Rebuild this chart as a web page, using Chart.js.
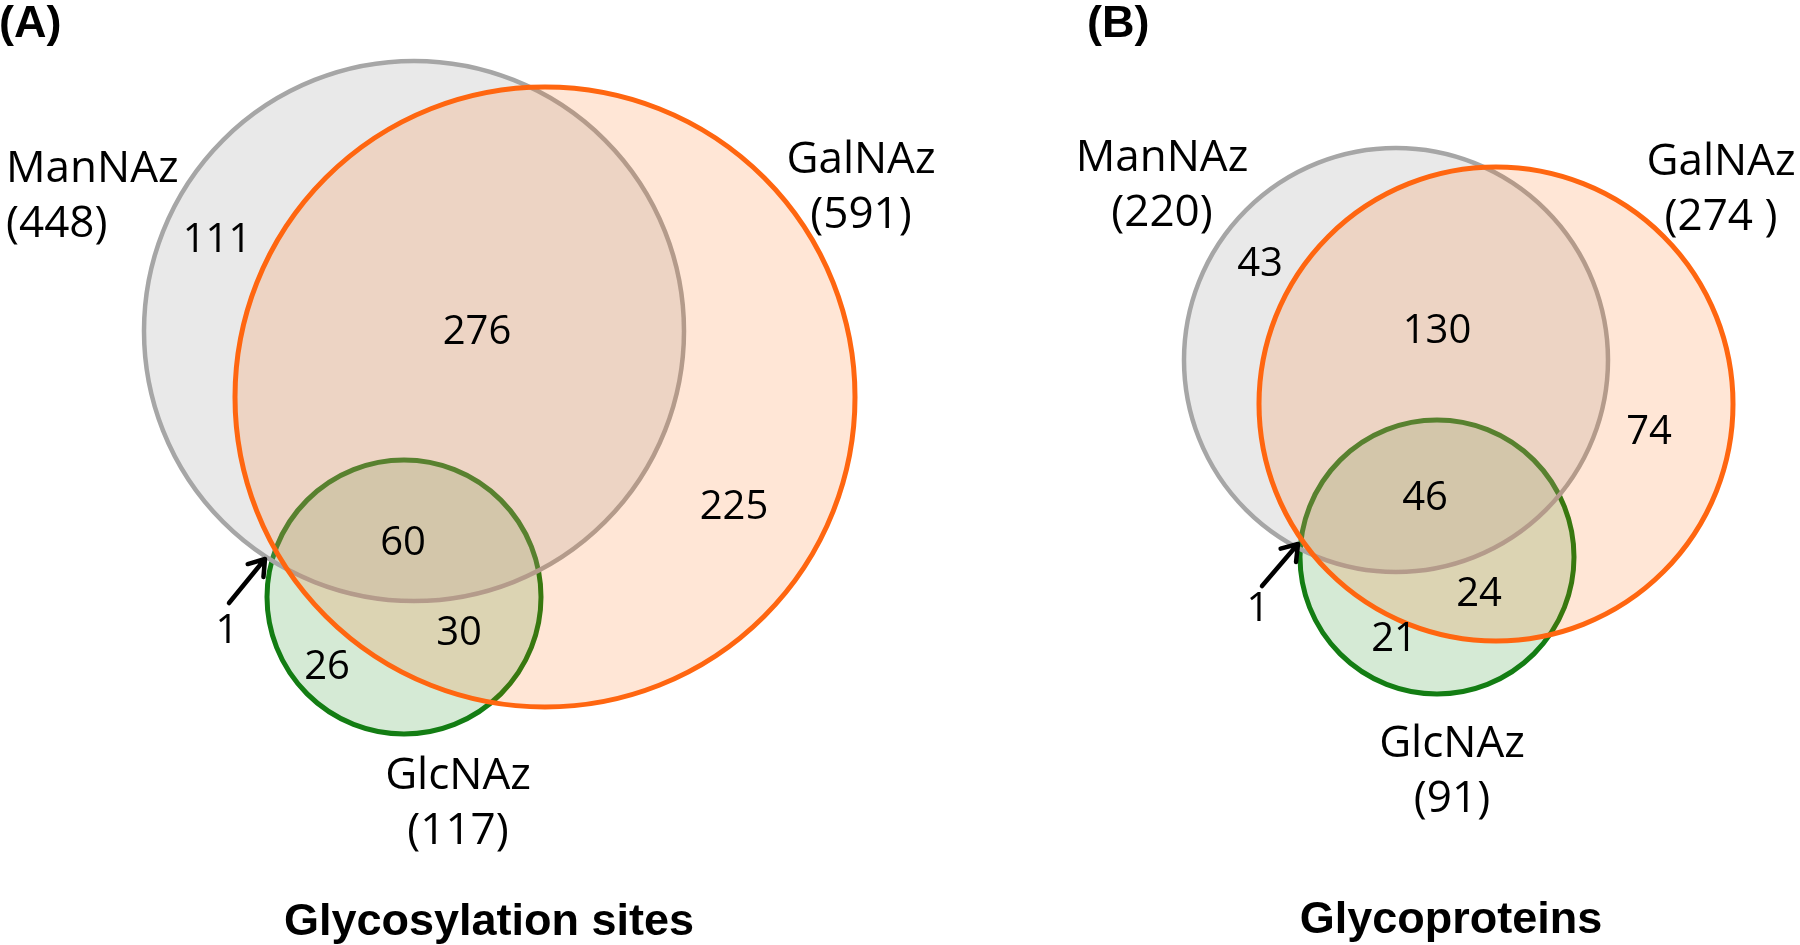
<!DOCTYPE html>
<html lang="en">
<head>
  <meta charset="UTF-8" />
  <title>Venn | Metabolic labelling</title>
  <script src="https://cdn.jsdelivr.net/npm/chart.js"></script>
  <style>
    html, body { margin: 0; padding: 0; background: #fff; }
    canvas { display: block; }
  </style>
</head>
<body>
  <canvas id="venn" width="1800" height="945"></canvas>

  <script>
    // sets and their totals, panel A then panel B
    const setNames = ['ManNAz', 'GalNAz', 'GlcNAz'];
    const totalsSites = ['448', '591', '117'];
    const totalsProteins = ['220', '274 ', '91'];

    // region counts: Man only, Man+Gal, Gal only, all three, Gal+Glc, Glc only, Man+Glc
    const regionsSites = [111, 276, 225, 60, 30, 26, 1];
    const regionsProteins = [43, 130, 74, 46, 24, 21, 1];

    const panelTags = ['(A)', '(B)'];
    const panelTitles = ['Glycosylation sites', 'Glycoproteins'];

    // circle layout in canvas units: [panel A, panel B]
    const manCircles = [{ x: 414, y: 331, r: 270 }, { x: 1396, y: 360, r: 212 }];
    const galCircles = [{ x: 545, y: 397, r: 310 }, { x: 1496, y: 404, r: 237 }];
    const glcCircles = [{ x: 404, y: 597, r: 137 }, { x: 1437, y: 557, r: 137 }];

    // where the labels sit (same order as the region counts)
    const regionSpots = [
      [[217, 241], [477, 333], [734, 508], [403, 544], [459, 634], [327, 668], [227, 632]],
      [[1260, 265], [1437, 332], [1649, 433], [1425, 499], [1479, 595], [1394, 640], [1258, 610]]
    ];
    const nameSpots = [
      [[6, 169, 'left'], [861, 160, 'center'], [458, 776, 'center']],
      [[1162, 158, 'center'], [1721, 162, 'center'], [1452, 744, 'center']]
    ];
    const arrows = [[229, 603, 265, 559], [1262, 586, 1298, 544]];
    const titleSpots = [[489, 923], [1451, 921]];
    const tagSpots = [[-1, 25], [1087, 25]];

    const FONT = "'Open Sans', sans-serif";

    const labelsPlugin = {
      id: 'vennLabels',
      afterDraw(chart) {
        const ctx = chart.ctx;
        const sx = chart.scales.x, sy = chart.scales.y;
        const px = v => sx.getPixelForValue(v);
        const py = v => sy.getPixelForValue(v);
        const totals = [totalsSites, totalsProteins];
        const regions = [regionsSites, regionsProteins];

        ctx.save();
        ctx.fillStyle = '#000';
        ctx.textBaseline = 'middle';

        for (let p = 0; p < 2; p++) {
          // set names with totals underneath
          ctx.font = '44px ' + FONT;
          nameSpots[p].forEach((s, i) => {
            ctx.textAlign = s[2];
            ctx.fillText(setNames[i], px(s[0]), py(s[1]));
            ctx.fillText('(' + totals[p][i] + ')', px(s[0]), py(s[1] + 55));
          });

          // region counts
          ctx.font = '40px ' + FONT;
          ctx.textAlign = 'center';
          regions[p].forEach((n, i) => {
            const s = regionSpots[p][i];
            ctx.fillText(String(n), px(s[0]), py(s[1]));
          });

          // little arrow pointing at the ManNAz+GlcNAz sliver
          const a = arrows[p];
          const x0 = px(a[0]), y0 = py(a[1]), x1 = px(a[2]), y1 = py(a[3]);
          const ang = Math.atan2(y1 - y0, x1 - x0);
          ctx.strokeStyle = '#000';
          ctx.lineWidth = 4.5;
          ctx.lineCap = 'round';
          ctx.lineJoin = 'round';
          ctx.beginPath();
          ctx.moveTo(x0, y0);
          ctx.lineTo(x1 - 2 * Math.cos(ang), y1 - 2 * Math.sin(ang));
          ctx.moveTo(x1 - 18 * Math.cos(ang - 0.6), y1 - 18 * Math.sin(ang - 0.6));
          ctx.lineTo(x1, y1);
          ctx.lineTo(x1 - 18 * Math.cos(ang + 0.6), y1 - 18 * Math.sin(ang + 0.6));
          ctx.stroke();

          // panel tag and title
          ctx.font = 'bold 45px "Liberation Sans", Arial, sans-serif';
          ctx.textAlign = 'left';
          ctx.fillText(panelTags[p], px(tagSpots[p][0]), py(tagSpots[p][1]));
          ctx.textAlign = 'center';
          ctx.fillText(panelTitles[p], px(titleSpots[p][0]), py(titleSpots[p][1]));
        }
        ctx.restore();
      }
    };

    // dataset 0 is drawn on top, so orange first, green last
    new Chart(document.getElementById('venn'), {
      type: 'bubble',
      data: {
        datasets: [
          {
            label: setNames[1],
            data: galCircles,
            backgroundColor: 'rgba(255, 102, 0, 0.16)',
            borderColor: '#ff6610',
            borderWidth: 5
          },
          {
            label: setNames[0],
            data: manCircles,
            backgroundColor: 'rgba(166, 166, 166, 0.25)',
            borderColor: '#a6a6a6',
            borderWidth: 4.5
          },
          {
            label: setNames[2],
            data: glcCircles,
            backgroundColor: 'rgba(0, 128, 0, 0.165)',
            borderColor: '#137d13',
            borderWidth: 5
          }
        ]
      },
      options: {
        responsive: false,
        animation: false,
        events: [],
        layout: { padding: 0, autoPadding: false },
        plugins: {
          legend: { display: false },
          tooltip: { enabled: false }
        },
        scales: {
          x: { type: 'linear', min: 0, max: 1800, display: false },
          y: { type: 'linear', min: 0, max: 945, reverse: true, display: false }
        }
      },
      plugins: [labelsPlugin]
    });
  </script>
</body>
</html>
